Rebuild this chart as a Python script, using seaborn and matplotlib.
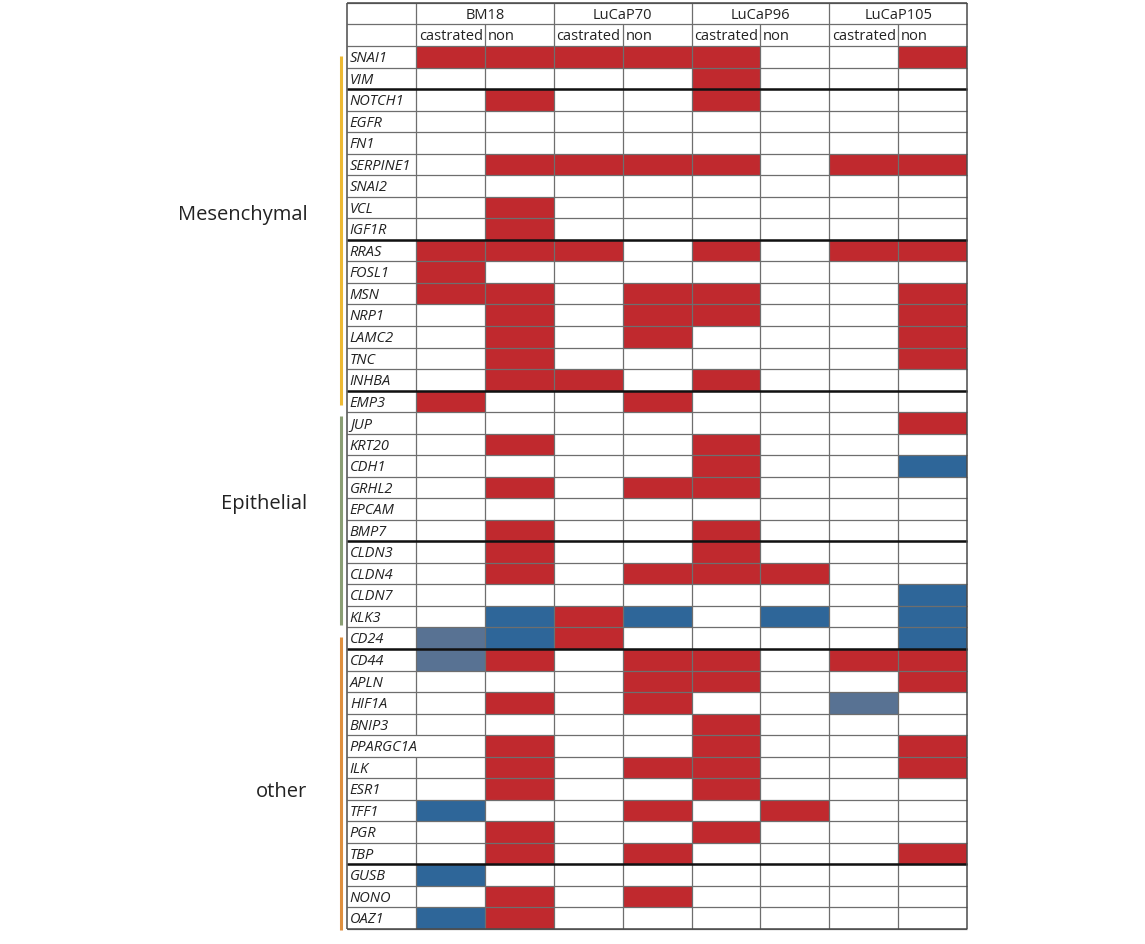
import numpy as np
import pandas as pd
import matplotlib
matplotlib.use("Agg")
import matplotlib.pyplot as plt
import seaborn as sns
from matplotlib.colors import ListedColormap

sns.set_style("white")
plt.rcParams['font.family'] = ['Open Sans', 'DejaVu Sans']

# 0 = no change, 1 = up (red), 2 = down (blue), 3 = down, weaker (grey-blue)
genes = ['SNAI1', 'VIM', 'NOTCH1', 'EGFR', 'FN1', 'SERPINE1', 'SNAI2', 'VCL',
         'IGF1R', 'RRAS', 'FOSL1', 'MSN', 'NRP1', 'LAMC2', 'TNC', 'INHBA',
         'EMP3', 'JUP', 'KRT20', 'CDH1', 'GRHL2', 'EPCAM', 'BMP7', 'CLDN3',
         'CLDN4', 'CLDN7', 'KLK3', 'CD24', 'CD44', 'APLN', 'HIF1A', 'BNIP3',
         'PPARGC1A', 'ILK', 'ESR1', 'TFF1', 'PGR', 'TBP', 'GUSB', 'NONO', 'OAZ1']
models = ['BM18', 'LuCaP70', 'LuCaP96', 'LuCaP105']
conditions = ['castrated', 'non']
status = [
    [1, 1, 1, 1, 1, 0, 0, 1],  # SNAI1
    [0, 0, 0, 0, 1, 0, 0, 0],  # VIM
    [0, 1, 0, 0, 1, 0, 0, 0],  # NOTCH1
    [0, 0, 0, 0, 0, 0, 0, 0],  # EGFR
    [0, 0, 0, 0, 0, 0, 0, 0],  # FN1
    [0, 1, 1, 1, 1, 0, 1, 1],  # SERPINE1
    [0, 0, 0, 0, 0, 0, 0, 0],  # SNAI2
    [0, 1, 0, 0, 0, 0, 0, 0],  # VCL
    [0, 1, 0, 0, 0, 0, 0, 0],  # IGF1R
    [1, 1, 1, 0, 1, 0, 1, 1],  # RRAS
    [1, 0, 0, 0, 0, 0, 0, 0],  # FOSL1
    [1, 1, 0, 1, 1, 0, 0, 1],  # MSN
    [0, 1, 0, 1, 1, 0, 0, 1],  # NRP1
    [0, 1, 0, 1, 0, 0, 0, 1],  # LAMC2
    [0, 1, 0, 0, 0, 0, 0, 1],  # TNC
    [0, 1, 1, 0, 1, 0, 0, 0],  # INHBA
    [1, 0, 0, 1, 0, 0, 0, 0],  # EMP3
    [0, 0, 0, 0, 0, 0, 0, 1],  # JUP
    [0, 1, 0, 0, 1, 0, 0, 0],  # KRT20
    [0, 0, 0, 0, 1, 0, 0, 2],  # CDH1
    [0, 1, 0, 1, 1, 0, 0, 0],  # GRHL2
    [0, 0, 0, 0, 0, 0, 0, 0],  # EPCAM
    [0, 1, 0, 0, 1, 0, 0, 0],  # BMP7
    [0, 1, 0, 0, 1, 0, 0, 0],  # CLDN3
    [0, 1, 0, 1, 1, 1, 0, 0],  # CLDN4
    [0, 0, 0, 0, 0, 0, 0, 2],  # CLDN7
    [0, 2, 1, 2, 0, 2, 0, 2],  # KLK3
    [3, 2, 1, 0, 0, 0, 0, 2],  # CD24
    [3, 1, 0, 1, 1, 0, 1, 1],  # CD44
    [0, 0, 0, 1, 1, 0, 0, 1],  # APLN
    [0, 1, 0, 1, 0, 0, 3, 0],  # HIF1A
    [0, 0, 0, 0, 1, 0, 0, 0],  # BNIP3
    [0, 1, 0, 0, 1, 0, 0, 1],  # PPARGC1A
    [0, 1, 0, 1, 1, 0, 0, 1],  # ILK
    [0, 1, 0, 0, 1, 0, 0, 0],  # ESR1
    [2, 0, 0, 1, 0, 1, 0, 0],  # TFF1
    [0, 1, 0, 0, 1, 0, 0, 0],  # PGR
    [0, 1, 0, 1, 0, 0, 0, 1],  # TBP
    [2, 0, 0, 0, 0, 0, 0, 0],  # GUSB
    [0, 1, 0, 1, 0, 0, 0, 0],  # NONO
    [2, 1, 0, 0, 0, 0, 0, 0],  # OAZ1
]
group_names = ['Mesenchymal', 'Epithelial', 'other']
# rows after which a heavy rule is drawn
heavy_after = ['VIM', 'IGF1R', 'INHBA', 'BMP7', 'CD24', 'TBP']
overflow_labels = ['PPARGC1A']

cols = [f'{m} {c}' for m in models for c in conditions]
df = pd.DataFrame(status, index=genes, columns=cols)

cell_colors = ['#FFFFFF', '#C0292E', '#2E6699', '#587293']
cmap = ListedColormap(cell_colors)

W, H = 1145, 944
fig = plt.figure(figsize=(W / 100, H / 100), dpi=100)
# data block: x 416..967 px, y 46..929 px
ax = fig.add_axes([416 / W, (H - 929) / H, (967 - 416) / W, (929 - 46) / H])
sns.heatmap(df, ax=ax, cmap=cmap, vmin=-0.5, vmax=3.5, cbar=False,
            xticklabels=False, yticklabels=False, linewidths=0)
ax.set_xlabel('')
ax.set_ylabel('')

n = len(genes)
thin = dict(color='#6E6E6E', lw=0.9, clip_on=False, zorder=3)
thick = dict(color='#111111', lw=1.8, clip_on=False, zorder=4)
edge = dict(color='#4A4A4A', lw=1.1, clip_on=False, zorder=5)

# horizontal rules
for y in range(-2, n + 1):
    ax.hlines(y, -1, 8, **thin)
for g in heavy_after:
    y = genes.index(g) + 1
    ax.hlines(y, -1, 8, **thick)

# vertical rules
ax.vlines([2, 4, 6], -2, n, **thin)
ax.vlines([1, 3, 5, 7], -1, n, **thin)
ax.vlines(0, -2, 0, **thin)
for i, g in enumerate(genes):
    if g not in overflow_labels:
        ax.vlines(0, i, i + 1, **thin)

# outer frame
ax.vlines([-1, 8], -2, n, **edge)
ax.hlines([-2, n], -1, 8, **edge)

# header text
for k, m in enumerate(models):
    ax.text(2 * k + 1, -1.42, m, ha='center', va='center', fontsize=10.5, color='#222222',
            clip_on=False)
    for j, c in enumerate(conditions):
        ax.text(2 * k + j + 0.04, -0.42, c, ha='left', va='center', fontsize=10.5,
                color='#222222', clip_on=False)

# gene names
for i, g in enumerate(genes):
    ax.text(-0.96, i + 0.58, g, ha='left', va='center', fontsize=10.5, style='italic',
            color='#222222', clip_on=False)

# group bars
bar_x = -1.09
bars = [(0.47, 16.65, '#EDB933'), (17.16, 26.9, '#8A9E74'), (27.45, 41.05, '#DE8F3E')]
for (y0, y1, col) in bars:
    ax.vlines(bar_x, y0, y1, color=col, lw=2.2, clip_on=False)

label_y = [7.85, 21.25, 34.65]
for name, y in zip(group_names, label_y):
    ax.text(-1.58, y, name, ha='right', va='center', fontsize=14.5, color='#222222',
            clip_on=False)

fig.savefig('out.png', dpi=100, facecolor='white')
